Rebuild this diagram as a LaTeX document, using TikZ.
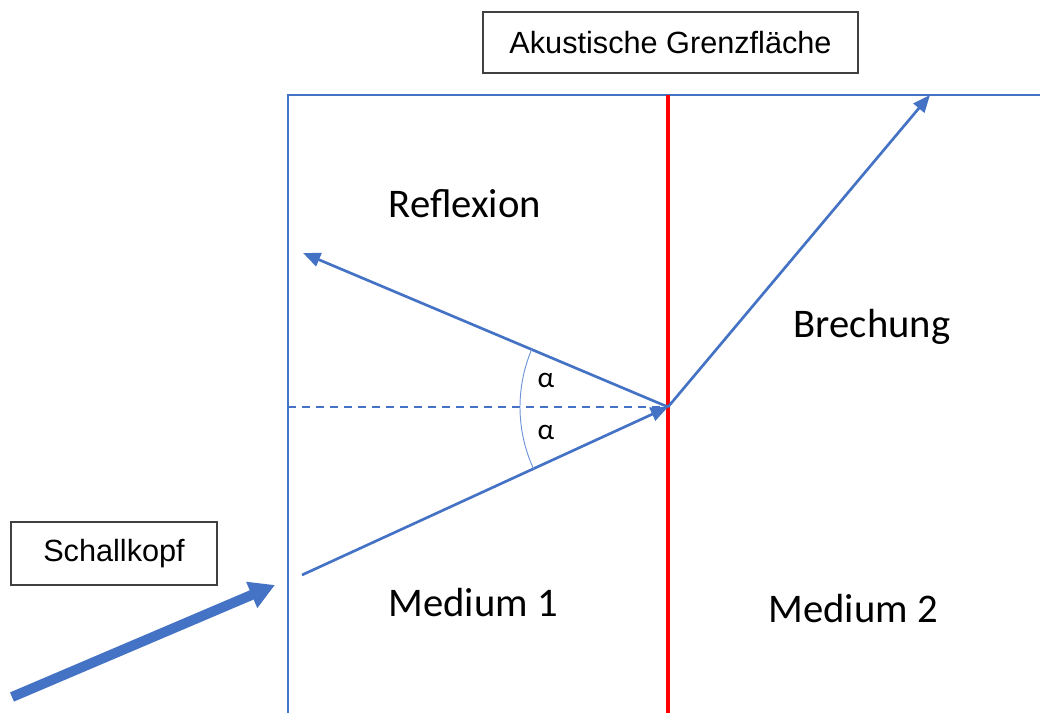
\documentclass[tikz,border=0pt]{standalone}
\usepackage{fontspec}
\setmainfont{Liberation Sans}
\newfontfamily\calfont{Carlito}
\usetikzlibrary{arrows.meta}
\definecolor{ablue}{HTML}{4472C4}
\definecolor{lblue}{HTML}{6F95D8}
\definecolor{boxgray}{HTML}{404040}
\begin{document}
\begin{tikzpicture}[x=0.75pt,y=0.75pt,
  labelbox/.style={draw=boxgray,line width=0.9pt,fill=white,inner sep=0pt,font=\fontsize{23}{27}\selectfont},
  biglabel/.style={font=\calfont\fontsize{30.5}{36}\selectfont,inner sep=0pt},
  alabel/.style={font=\calfont\fontsize{22}{26}\selectfont,inner sep=0pt},
  ray/.style={ablue,line width=2pt,-{Triangle[length=13pt,width=10.5pt]}},
  wall/.style={ablue,line width=2.2pt},
]
\useasboundingbox (0,0) rectangle (1040,713);
% frame
\coordinate (tl) at (288,618);
\coordinate (tr) at (1040,618);
\coordinate (bl) at (288,0);
\draw[wall] (tr) -- (tl) -- (bl);
% interface
\coordinate (rt) at (668,618);
\coordinate (rb) at (668,0);
\draw[red,line width=3.2pt] (rt) -- (rb);
% points
\coordinate (hit) at (668,306);
\coordinate (refl) at (303,460);
\coordinate (inc) at (302,138);
\coordinate (refr) at (930,618);
\coordinate (nl) at (288,306);
% dashed normal
\draw[ablue,line width=1.3pt,dash pattern=on 6pt off 4.5pt] (nl) -- (hit);
% rays
\draw[ray] (inc) -- (hit);
\draw[ray] (hit) -- (refl);
\draw[ray] (hit) -- (refr);
% angle arc
\draw[lblue,line width=0.7pt] (hit) ++(157.1:148) arc[start angle=157.1,end angle=204.7,radius=148];
\node[alabel] (a1) at (546,333) {α};
\node[alabel] (a2) at (546,281) {α};
% transducer arrow
\coordinate (sk0) at (12,16);
\coordinate (sk1) at (275,128);
\draw[ablue,line width=7.5pt,-{Triangle[length=19pt,width=20pt]}] (sk0) -- (sk1);
% label boxes
\node[labelbox,minimum width=281.25pt,minimum height=45.75pt] (ag) at (670.5,670.5) {Akustische Grenzfläche};
\node[labelbox,minimum width=154.5pt,minimum height=47.25pt] (sk) at (114,159.5) {Schallkopf};
% region labels
\node[biglabel] (rf) at (465,509) {Reflexion};
\node[biglabel] (br) at (872,386) {Brechung};
\node[biglabel] (m1) at (473,110) {Medium 1};
\node[biglabel] (m2) at (853,104) {Medium 2};
\end{tikzpicture}
\end{document}
